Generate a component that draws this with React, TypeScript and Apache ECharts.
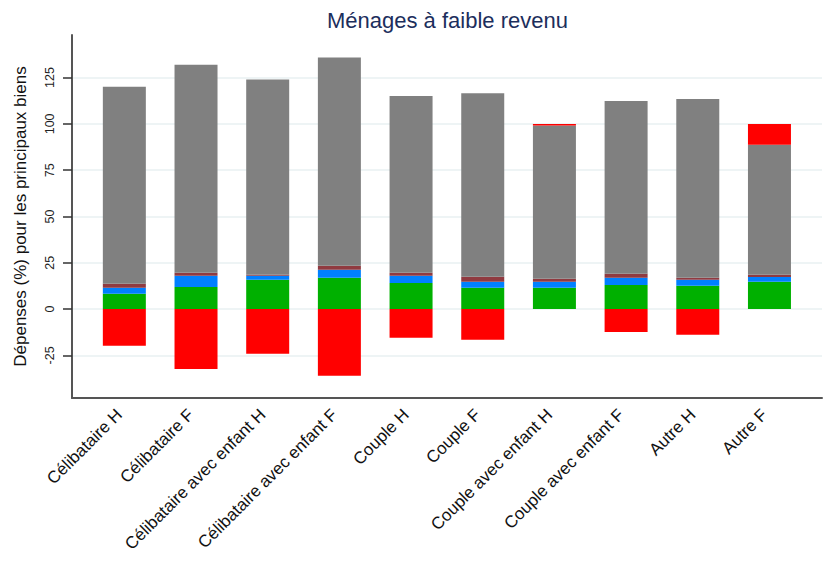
import React, { useEffect, useRef } from "react";
import * as echarts from "echarts";

const categories = [
  "Célibataire H",
  "Célibataire F",
  "Célibataire avec enfant H",
  "Célibataire avec enfant F",
  "Couple H",
  "Couple F",
  "Couple avec enfant H",
  "Couple avec enfant F",
  "Autre H",
  "Autre F",
];

const greenValues = [8.3, 11.9, 15.8, 16.9, 14.1, 11.5, 11.5, 13.0, 12.6, 14.8];
const blueValues = [3.2, 6.1, 2.2, 4.3, 3.9, 3.3, 3.3, 3.9, 3.2, 2.5];
const maroonValues = [2.2, 1.6, 0.6, 2.2, 1.6, 2.7, 1.6, 2.2, 1.1, 1.2];
const grayValues = [106.3, 112.3, 105.4, 112.4, 95.5, 99.1, 82.7, 93.3, 96.6, 70.3];
const redValues = [-19.8, -32.4, -24.1, -36.0, -15.5, -16.6, 0.9, -12.4, -13.9, 11.2];

const yTicks = [-25, 0, 25, 50, 75, 100, 125];
const yMin = -48;
const yMax = 148;

const FONT = "'Liberation Sans', Arial, Helvetica, sans-serif";

export default function App() {
  const ref = useRef<HTMLDivElement>(null);

  useEffect(() => {
    document.body.style.margin = "0";
    if (!ref.current) return;
    const chart = echarts.init(ref.current, undefined, { renderer: "svg" });

    const mkSeries = (name: string, data: number[], color: string) => ({
      name,
      type: "bar",
      stack: "total",
      xAxisIndex: 1,
      yAxisIndex: 1,
      barWidth: 43,
      data,
      itemStyle: { color },
      emphasis: { disabled: true },
    });

    chart.setOption({
      animation: false,
      backgroundColor: "#ffffff",
      textStyle: { fontFamily: FONT },
      title: {
        text: "Ménages à faible revenu",
        left: 327,
        top: 9,
        padding: 0,
        textStyle: {
          fontFamily: FONT,
          fontSize: 22,
          fontWeight: "normal",
          color: "#1c2e5c",
        },
      },
      grid: [
        { left: 72, right: 11, top: 35, bottom: 165 },
        { left: 88.5, right: 27.7, top: 35, bottom: 165 },
      ],
      xAxis: [
        {
          gridIndex: 0,
          type: "value",
          min: 0,
          max: 1,
          axisLine: {
            show: true,
            onZero: false,
            lineStyle: { color: "#555555", width: 2 },
          },
          axisTick: { show: false },
          axisLabel: { show: false },
          splitLine: { show: false },
        },
        {
          gridIndex: 1,
          type: "category",
          data: categories,
          axisLine: { show: false },
          axisTick: { show: false },
          splitLine: { show: false },
          axisLabel: {
            interval: 0,
            rotate: 45,
            margin: 9,
            padding: [0, 7, 14, 0],
            fontSize: 17,
            color: "#111111",
            fontFamily: FONT,
          },
        },
      ],
      yAxis: [
        {
          gridIndex: 0,
          type: "value",
          min: yMin,
          max: yMax,
          name: "Dépenses (%) pour les principaux biens",
          nameLocation: "middle",
          nameGap: 43,
          nameTextStyle: { fontSize: 17, color: "#111111", fontFamily: FONT },
          axisLine: {
            show: true,
            onZero: false,
            lineStyle: { color: "#555555", width: 2 },
          },
          axisTick: {
            show: true,
            length: 9,
            customValues: yTicks,
            lineStyle: { color: "#333333", width: 1.5 },
          },
          axisLabel: {
            customValues: yTicks,
            rotate: 90,
            margin: 16,
            fontSize: 12.5,
            color: "#222222",
            fontFamily: FONT,
          },
          splitLine: {
            show: true,
            lineStyle: { color: "#e9f0f2", width: 1.5 },
          },
        },
        {
          gridIndex: 1,
          type: "value",
          min: yMin,
          max: yMax,
          show: false,
          splitLine: { show: false },
        },
      ],
      series: [
        mkSeries("Composante 1", greenValues, "#00b000"),
        mkSeries("Composante 2", blueValues, "#0080ff"),
        mkSeries("Composante 3", maroonValues, "#903a40"),
        mkSeries("Composante 4", grayValues, "#808080"),
        mkSeries("Composante 5", redValues, "#ff0000"),
      ],
    });

    return () => chart.dispose();
  }, []);

  return (
    <div
      ref={ref}
      style={{ width: 833, height: 563, overflow: "hidden", background: "#fff" }}
    />
  );
}
